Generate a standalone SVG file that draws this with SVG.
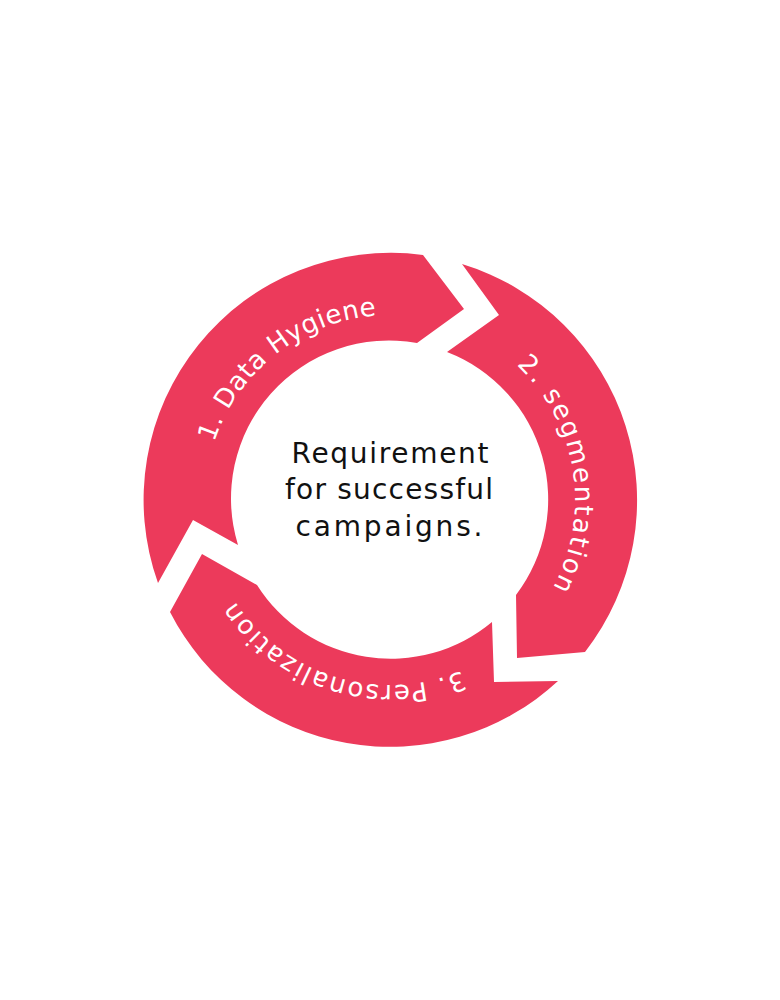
<svg xmlns="http://www.w3.org/2000/svg" width="780" height="1000" viewBox="0 0 780 1000">
  <style>
    .seg { fill: #EC3A5B; }
    .lbl { font-family: "DejaVu Sans", "Liberation Sans", sans-serif; font-size: 26px; fill: #ffffff; }
    .ctr { font-family: "DejaVu Sans", "Liberation Sans", sans-serif; font-size: 28px; fill: #111111; text-anchor: middle; }
  </style>
  <defs>
    <path id="p1" d="M 206.8 525.7 A 185 185 0 0 1 459.3 328.5"/>
    <path id="p2" d="M 455.4 326.9 A 185 185 0 0 1 507.2 643.2"/>
    <path id="p3" d="M 516.2 635.3 A 185 185 0 0 1 209.7 541.6"/>
  </defs>
  <rect width="780" height="1000" fill="#ffffff"/>
  <g id="connectors"/>
  <g id="node-data-hygiene">
    <path class="seg" d="M 158 583 A 247 247 0 0 1 423 255 L 464 309 L 417 343 A 158 158 0 0 0 238 545 L 193 520 Z"/>
    <text class="lbl" textLength="218"><textPath href="#p1" startOffset="50%" text-anchor="middle">1. Data Hygiene</textPath></text>
  </g>
  <g id="node-segmentation">
    <path class="seg" d="M 462 264 A 247 247 0 0 1 585 652 L 517 658 L 516 595 A 158 158 0 0 0 447 352 L 499 315 Z"/>
    <text class="lbl" textLength="243"><textPath href="#p2" startOffset="50%" text-anchor="middle">2. segmentation</textPath></text>
  </g>
  <g id="node-personalization">
    <path class="seg" d="M 558 681 A 247 247 0 0 1 170 612 L 202 554 L 257 585 A 158 158 0 0 0 492 622 L 494 682 Z"/>
    <text class="lbl" textLength="257"><textPath href="#p3" startOffset="50%" text-anchor="middle">3. Personalization</textPath></text>
  </g>
  <g id="node-center">
    <text class="ctr" x="390" y="463" textLength="197">Requirement</text>
    <text class="ctr" x="389" y="499" textLength="208">for successful</text>
    <text class="ctr" x="389" y="536" textLength="187">campaigns.</text>
  </g>
</svg>
